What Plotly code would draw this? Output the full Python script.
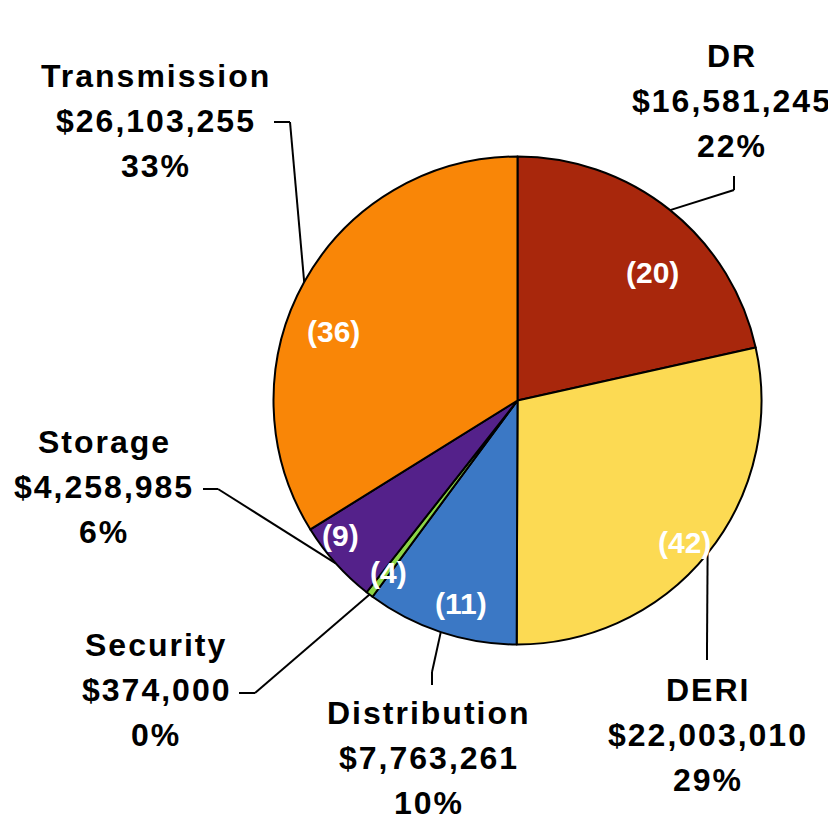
import math
import plotly.graph_objects as go

# data
categories = ["DR", "DERI", "Distribution", "Security", "Storage", "Transmission"]
amounts = [16581245, 22003010, 7763261, 374000, 4258985, 26103255]
pct_labels = ["22%", "29%", "10%", "0%", "6%", "33%"]
counts = [20, 42, 11, 4, 9, 36]
colors = ["#A8270C", "#FCDA53", "#3B78C5", "#8DD547", "#54218A", "#F98607"]

W, H = 836, 821
OFF = 8  # the page body margin shifts the plot by this much
CX, CY, R = 517.5, 400.5, 244


def px(x):
    return (x - OFF) / W


def py(y):
    return 1 - (y - OFF) / H


fig = go.Figure()
fig.add_trace(go.Pie(
    labels=categories,
    values=amounts,
    sort=False,
    direction="clockwise",
    rotation=0,
    textinfo="none",
    marker=dict(colors=colors, line=dict(color="black", width=2)),
    domain=dict(x=[px(CX - R), px(CX + R)], y=[py(CY + R), py(CY - R)]),
    showlegend=False,
))

# outside labels: (center x, y of first line) in pixels, and the leader elbow/tick
label_pos = {
    "DR": (731, 56),
    "DERI": (707, 690),
    "Distribution": (428, 713),
    "Security": (155, 645),
    "Storage": (103, 442),
    "Transmission": (155, 76),
}
leader_path = {
    "DR": [(734, 190), (734, 176)],
    "DERI": [(707, 647), (707, 660)],
    "Distribution": [(432, 672), (432, 685)],
    "Security": [(255, 693), (239, 693)],
    "Storage": [(218, 489), (203, 489)],
    "Transmission": [(290, 122), (274, 122)],
}
inside_pos = [(652, 272), (684, 542), (461, 603), (388, 572), (340, 535), (333, 331)]

label_font = dict(family="Liberation Sans, Arial", size=32,
                  color="black", weight="bold")
LINE_GAP = 45


def spaced(s):
    return '<span style="letter-spacing:2px">' + s + '</span>'


total = sum(amounts)
cum = 0
for i, name in enumerate(categories):
    mid = (cum + amounts[i] / 2) / total * 2 * math.pi
    cum += amounts[i]
    ex = CX + R * math.sin(mid)
    ey = CY - R * math.cos(mid)
    pts = [(ex, ey)] + leader_path[name]
    for (x0, y0), (x1, y1) in zip(pts[:-1], pts[1:]):
        fig.add_shape(type="line", xref="paper", yref="paper",
                      x0=px(x0), y0=py(y0), x1=px(x1), y1=py(y1),
                      line=dict(color="black", width=2))

    lx, ly = label_pos[name]
    lines = [name, "${:,}".format(amounts[i]), pct_labels[i]]
    for k, t in enumerate(lines):
        fig.add_annotation(x=px(lx + 1), y=py(ly + k * LINE_GAP), xref="paper", yref="paper",
                           text=spaced(t), showarrow=False, font=label_font,
                           xanchor="center", yanchor="middle")

    ix, iy = inside_pos[i]
    fig.add_annotation(x=px(ix), y=py(iy), xref="paper", yref="paper",
                       text="({})".format(counts[i]), showarrow=False,
                       font=dict(family="Liberation Sans, Arial", size=30,
                                 color="white", weight="bold"),
                       xanchor="center", yanchor="middle")

fig.update_layout(
    width=W,
    height=H,
    margin=dict(l=0, r=0, t=0, b=0),
    paper_bgcolor="white",
    plot_bgcolor="white",
)

fig.write_html("out.html")
